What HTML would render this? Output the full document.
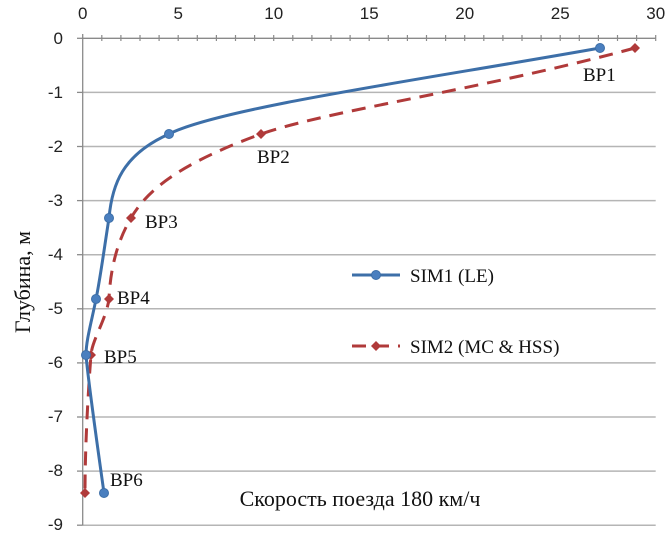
<!DOCTYPE html>
<html><head><meta charset="utf-8"><style>
html,body{margin:0;padding:0;background:#fff;}
svg{display:block;}
</style></head><body>
<svg width="671" height="545" viewBox="0 0 671 545" xmlns="http://www.w3.org/2000/svg">
<g stroke="#b5b5b5" stroke-width="1.5">
<line x1="82.7" y1="92.4" x2="655.7" y2="92.4"/>
<line x1="82.7" y1="146.5" x2="655.7" y2="146.5"/>
<line x1="82.7" y1="200.6" x2="655.7" y2="200.6"/>
<line x1="82.7" y1="254.7" x2="655.7" y2="254.7"/>
<line x1="82.7" y1="308.8" x2="655.7" y2="308.8"/>
<line x1="82.7" y1="362.9" x2="655.7" y2="362.9"/>
<line x1="82.7" y1="417" x2="655.7" y2="417"/>
<line x1="82.7" y1="471.1" x2="655.7" y2="471.1"/>
<line x1="82.7" y1="525.2" x2="655.7" y2="525.2"/>
</g>
<g stroke="#8a8a8a" stroke-width="1.3">
<line x1="82.7" y1="38.3" x2="655.7" y2="38.3"/>
<line x1="82.7" y1="34" x2="82.7" y2="525.2"/>
<line x1="77" y1="38.3" x2="82.7" y2="38.3"/>
<line x1="77" y1="92.4" x2="82.7" y2="92.4"/>
<line x1="77" y1="146.5" x2="82.7" y2="146.5"/>
<line x1="77" y1="200.6" x2="82.7" y2="200.6"/>
<line x1="77" y1="254.7" x2="82.7" y2="254.7"/>
<line x1="77" y1="308.8" x2="82.7" y2="308.8"/>
<line x1="77" y1="362.9" x2="82.7" y2="362.9"/>
<line x1="77" y1="417" x2="82.7" y2="417"/>
<line x1="77" y1="471.1" x2="82.7" y2="471.1"/>
<line x1="77" y1="525.2" x2="82.7" y2="525.2"/>
</g>
<g font-family="Liberation Sans, sans-serif" font-size="17" fill="#222" text-anchor="middle">
<text x="82.7" y="19">0</text><text x="178.2" y="19">5</text><text x="273.7" y="19">10</text>
<text x="369.2" y="19">15</text><text x="464.7" y="19">20</text><text x="560.2" y="19">25</text><text x="655.7" y="19">30</text>
</g>
<g font-family="Liberation Sans, sans-serif" font-size="17" fill="#222" text-anchor="end">
<text x="63" y="44">0</text><text x="63" y="98">-1</text><text x="63" y="152">-2</text><text x="63" y="206">-3</text>
<text x="63" y="260">-4</text><text x="63" y="314">-5</text><text x="63" y="368">-6</text><text x="63" y="422">-7</text>
<text x="63" y="476">-8</text><text x="63" y="530">-9</text>
</g>
<path d="M635,48 C480,90 330,110 261,134 C190,160 150,185 131,218 C115,245 110,275 109,299 C106,320 92,340 91,355 C89,380 85,440 85,493" fill="none" stroke="#b03a3a" stroke-width="3" stroke-dasharray="14,9"/>
<path d="M600,48 C420,80 220,108 169,134 C122,155 112,185 109,218 C104,250 100,280 96,299 C92,320 86,340 86,355 C88,380 98,450 104,493" fill="none" stroke="#3d6fa8" stroke-width="3"/>
<g fill="#b03a3a">
<path d="M635,43 l5,5 l-5,5 l-5,-5z"/><path d="M261,129 l5,5 l-5,5 l-5,-5z"/><path d="M131,213 l5,5 l-5,5 l-5,-5z"/>
<path d="M109,294 l5,5 l-5,5 l-5,-5z"/><path d="M91,350 l5,5 l-5,5 l-5,-5z"/><path d="M85,488 l5,5 l-5,5 l-5,-5z"/>
</g>
<g fill="#4a7fbf" stroke="#3d6fa8">
<circle cx="600" cy="48" r="4.5"/><circle cx="169" cy="134" r="4.5"/><circle cx="109" cy="218" r="4.5"/>
<circle cx="96" cy="299" r="4.5"/><circle cx="86" cy="355" r="4.5"/><circle cx="104" cy="493" r="4.5"/>
</g>
<g font-family="Liberation Serif, serif" font-size="19" fill="#111">
<text x="583" y="81">BP1</text><text x="257" y="163">BP2</text><text x="145" y="228">BP3</text>
<text x="117" y="304">BP4</text><text x="104" y="363">BP5</text><text x="110" y="486">BP6</text>
<text x="410" y="282">SIM1 (LE)</text><text x="410" y="353">SIM2 (MC &amp; HSS)</text>
</g>
<line x1="352" y1="275" x2="400" y2="275" stroke="#3d6fa8" stroke-width="3"/>
<circle cx="376" cy="275" r="4.5" fill="#4a7fbf" stroke="#3d6fa8"/>
<line x1="352" y1="346" x2="400" y2="346" stroke="#b03a3a" stroke-width="3" stroke-dasharray="14,9"/>
<path d="M376,341 l5,5 l-5,5 l-5,-5z" fill="#b03a3a"/>
<text x="360" y="506" font-family="Liberation Serif, serif" font-size="22" fill="#111" text-anchor="middle">Скорость поезда 180 км/ч</text>
<text transform="translate(30,282) rotate(-90)" font-family="Liberation Serif, serif" font-size="22" fill="#111" text-anchor="middle">Глубина, м</text>
<g stroke="#8a8a8a" stroke-width="1.2">
<line x1="101.8" y1="35" x2="101.8" y2="41"/><line x1="120.9" y1="35" x2="120.9" y2="41"/><line x1="140" y1="35" x2="140" y2="41"/><line x1="159.1" y1="35" x2="159.1" y2="41"/><line x1="178.2" y1="35" x2="178.2" y2="41"/>
<line x1="197.3" y1="35" x2="197.3" y2="41"/><line x1="216.4" y1="35" x2="216.4" y2="41"/><line x1="235.5" y1="35" x2="235.5" y2="41"/><line x1="254.6" y1="35" x2="254.6" y2="41"/><line x1="273.7" y1="35" x2="273.7" y2="41"/>
<line x1="292.8" y1="35" x2="292.8" y2="41"/><line x1="311.9" y1="35" x2="311.9" y2="41"/><line x1="331" y1="35" x2="331" y2="41"/><line x1="350.1" y1="35" x2="350.1" y2="41"/><line x1="369.2" y1="35" x2="369.2" y2="41"/>
<line x1="388.3" y1="35" x2="388.3" y2="41"/><line x1="407.4" y1="35" x2="407.4" y2="41"/><line x1="426.5" y1="35" x2="426.5" y2="41"/><line x1="445.6" y1="35" x2="445.6" y2="41"/><line x1="464.7" y1="35" x2="464.7" y2="41"/>
<line x1="483.8" y1="35" x2="483.8" y2="41"/><line x1="502.9" y1="35" x2="502.9" y2="41"/><line x1="522" y1="35" x2="522" y2="41"/><line x1="541.1" y1="35" x2="541.1" y2="41"/><line x1="560.2" y1="35" x2="560.2" y2="41"/>
<line x1="579.3" y1="35" x2="579.3" y2="41"/><line x1="598.4" y1="35" x2="598.4" y2="41"/><line x1="617.5" y1="35" x2="617.5" y2="41"/><line x1="636.6" y1="35" x2="636.6" y2="41"/><line x1="655.7" y1="35" x2="655.7" y2="41"/>
</g>
</svg>
</body></html>
